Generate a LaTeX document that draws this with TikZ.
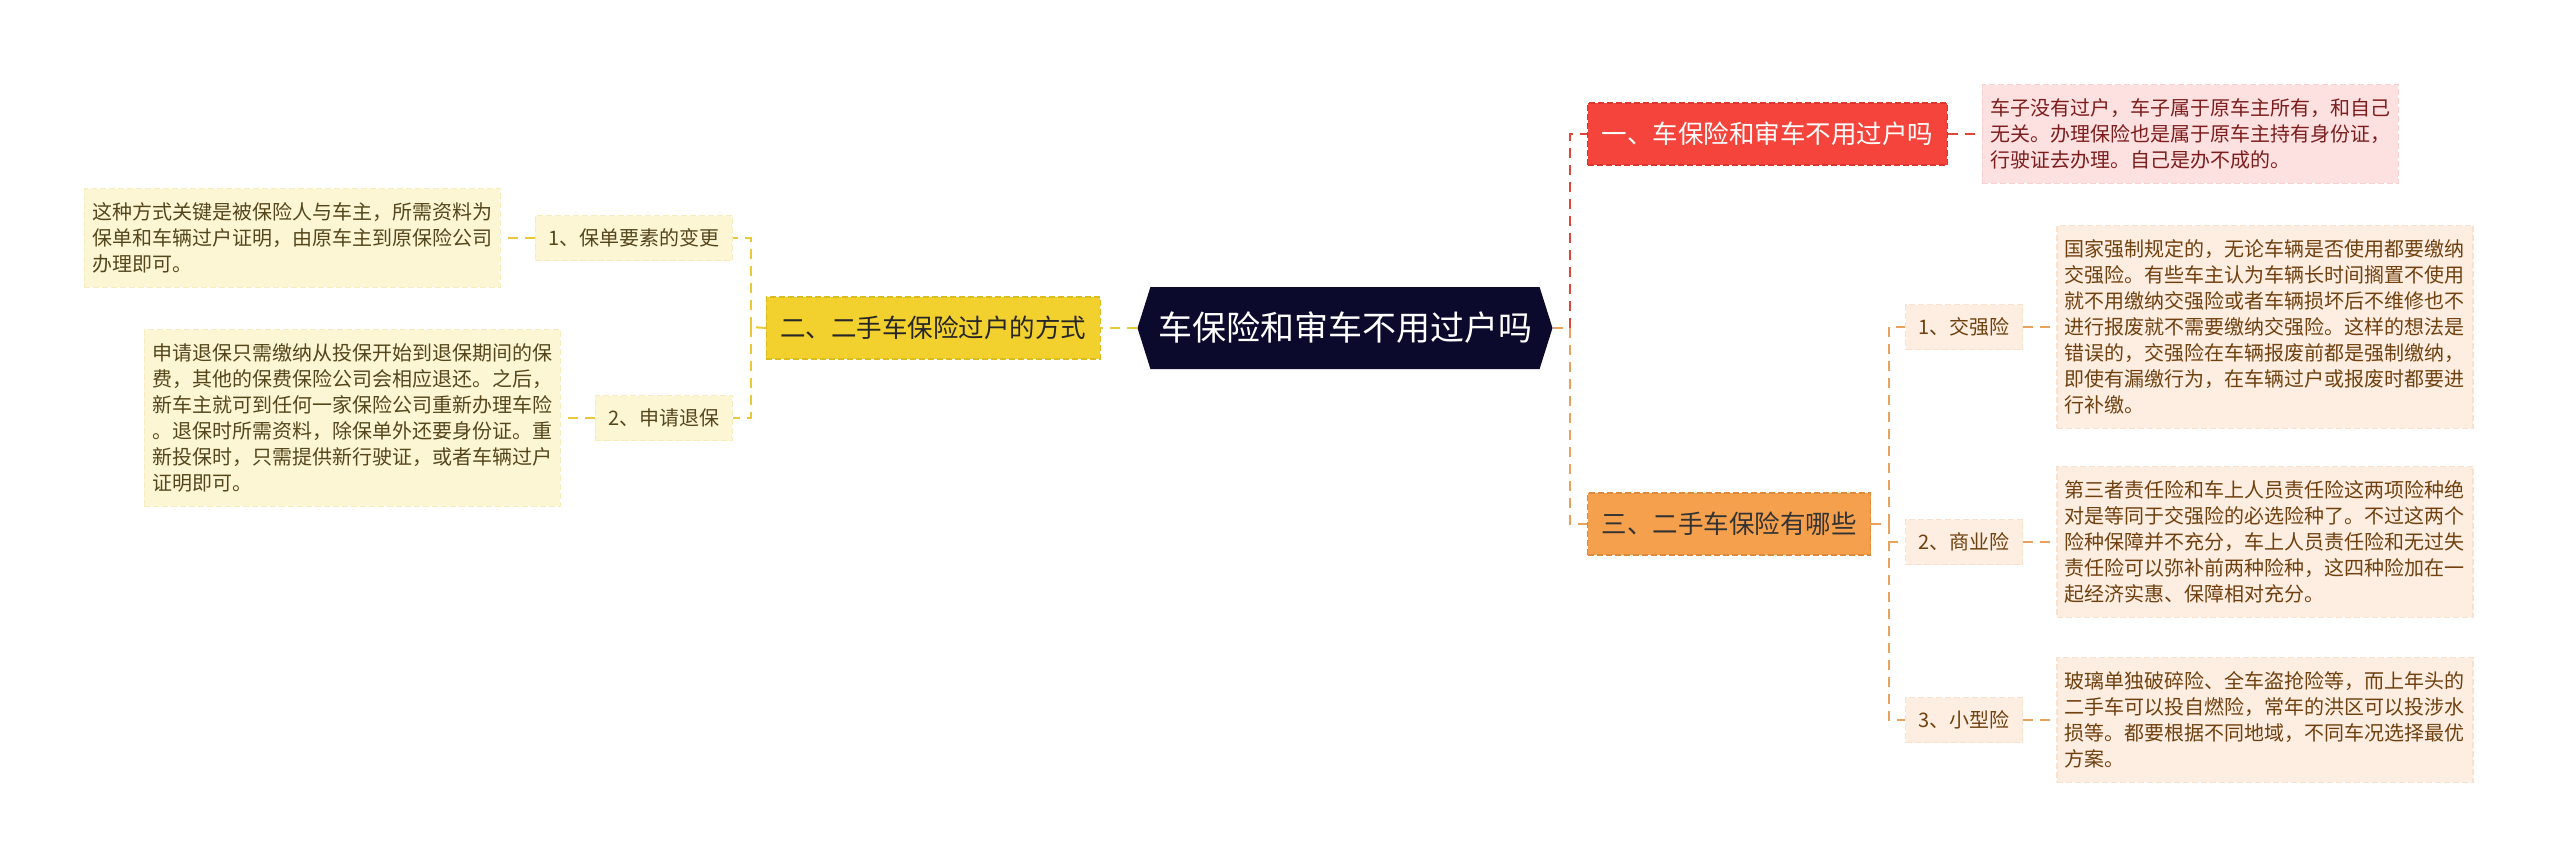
\documentclass[tikz,border=0pt]{standalone}
\usepackage{fontspec}
\setmainfont{Noto Sans CJK SC}
\usepackage{xcolor}
\usetikzlibrary{positioning,shapes.symbols}
\definecolor{rootnavy}{HTML}{0B0A2C}
\definecolor{redfill}{HTML}{F5443B}
\definecolor{rededge}{HTML}{D8362E}
\definecolor{redleaf}{HTML}{FDE1E1}
\definecolor{redleafedge}{HTML}{F9D0D0}
\definecolor{redtext}{HTML}{7E1D1D}
\definecolor{redline}{HTML}{E0453C}
\definecolor{orgfill}{HTML}{F5A04C}
\definecolor{orgedge}{HTML}{E0893A}
\definecolor{orgleaf}{HTML}{FDEEE1}
\definecolor{orgleafedge}{HTML}{F8E2CE}
\definecolor{orgtext}{HTML}{70400F}
\definecolor{orgline}{HTML}{E9A15E}
\definecolor{ylwfill}{HTML}{F2D12E}
\definecolor{ylwedge}{HTML}{DDBB1E}
\definecolor{ylwleaf}{HTML}{FDF6D4}
\definecolor{ylwleafedge}{HTML}{F6EDBE}
\definecolor{ylwtext}{HTML}{55461C}
\definecolor{ylwline}{HTML}{EAC838}

\begin{document}
\begin{tikzpicture}[x=0.5pt, y=-0.5pt, node distance=17pt, topic/.style={signal, signal to=east and west, signal pointer angle=145, fill=rootnavy, text=white, minimum width=207.5pt, minimum height=41pt, inner sep=0pt, font=\fontsize{17pt}{20pt}\selectfont}, branch/.style={draw, dash pattern=on 3pt off 1.5pt, line width=0.6pt, minimum height=31pt, inner xsep=7pt, font=\fontsize{12.75pt}{15pt}\selectfont}, sub/.style={draw, dash pattern=on 3pt off 1.5pt, line width=0.6pt, minimum height=22.5pt, inner xsep=6.5pt, font=\fontsize{10pt}{12pt}\selectfont}, leaf/.style={sub, align=left, inner xsep=4pt, inner ysep=7pt, font=\fontsize{10pt}{13pt}\selectfont}, link/.style={dash pattern=on 5pt off 3.5pt, line width=1pt}]
\useasboundingbox (0,0) rectangle (2560,867);
\node[topic] (root) at (1345,328) {车保险和审车不用过户吗};
\node[branch, draw=rededge, fill=redfill, text=white, anchor=west] (one) at (1587,134) {一、车保险和审车不用过户吗};
\node[leaf, draw=redleafedge, fill=redleaf, text=redtext, right=of one] (onetxt) {车子没有过户，车子属于原车主所有，和自己\\无关。办理保险也是属于原车主持有身份证，\\行驶证去办理。自己是办不成的。};
\node[branch, draw=orgedge, fill=orgfill, text=black!80, anchor=west] (three) at (1587,524) {三、二手车保险有哪些};
\node[sub, draw=orgleafedge, fill=orgleaf, text=orgtext, anchor=west] (jqx) at (1905,327) {1、交强险};
\node[sub, draw=orgleafedge, fill=orgleaf, text=orgtext, anchor=west] (syx) at (1905,542) {2、商业险};
\node[sub, draw=orgleafedge, fill=orgleaf, text=orgtext, anchor=west] (xxx) at (1905,720) {3、小型险};
\node[leaf, draw=orgleafedge, fill=orgleaf, text=orgtext, right=16.5pt of jqx] (jqxtxt) {国家强制规定的，无论车辆是否使用都要缴纳\\交强险。有些车主认为车辆长时间搁置不使用\\就不用缴纳交强险或者车辆损坏后不维修也不\\进行报废就不需要缴纳交强险。这样的想法是\\错误的，交强险在车辆报废前都是强制缴纳，\\即使有漏缴行为，在车辆过户或报废时都要进\\行补缴。};
\node[leaf, draw=orgleafedge, fill=orgleaf, text=orgtext, right=16.5pt of syx] (syxtxt) {第三者责任险和车上人员责任险这两项险种绝\\对是等同于交强险的必选险种了。不过这两个\\险种保障并不充分，车上人员责任险和无过失\\责任险可以弥补前两种险种，这四种险加在一\\起经济实惠、保障相对充分。};
\node[leaf, draw=orgleafedge, fill=orgleaf, text=orgtext, right=16.5pt of xxx] (xxxtxt) {玻璃单独破碎险、全车盗抢险等，而上年头的\\二手车可以投自燃险，常年的洪区可以投涉水\\损等。都要根据不同地域，不同车况选择最优\\方案。};
\node[branch, draw=ylwedge, fill=ylwfill, text=black!85, left=18pt of root] (two) {二、二手车保险过户的方式};
\node[sub, draw=ylwleafedge, fill=ylwleaf, text=ylwtext, anchor=east] (bdys) at (733,238) {1、保单要素的变更};
\node[sub, draw=ylwleafedge, fill=ylwleaf, text=ylwtext, anchor=east] (sqtb) at (733,418) {2、申请退保};
\node[leaf, draw=ylwleafedge, fill=ylwleaf, text=ylwtext, left=of bdys] (bdystxt) {这种方式关键是被保险人与车主，所需资料为\\保单和车辆过户证明，由原车主到原保险公司\\办理即可。};
\node[leaf, draw=ylwleafedge, fill=ylwleaf, text=ylwtext, left=of sqtb] (sqtbtxt) {申请退保只需缴纳从投保开始到退保期间的保\\费，其他的保费保险公司会相应退还。之后，\\新车主就可到任何一家保险公司重新办理车险\\。退保时所需资料，除保单外还要身份证。重\\新投保时，只需提供新行驶证，或者车辆过户\\证明即可。};
\coordinate (rj) at (1570,328);
\coordinate (oj) at (1889,524);
\coordinate (yj) at (751,327);
\draw[link, orgline] (root.east) -- (rj);
\draw[link, redline] (rj) |- (one.west);
\draw[link, orgline] (rj) |- (three.west);
\draw[link, redline] (one.east) -- (onetxt.west);
\draw[link, orgline] (three.east) -- (oj);
\draw[link, orgline] (oj) |- (jqx.west);
\draw[link, orgline] (oj) |- (syx.west);
\draw[link, orgline] (oj) |- (xxx.west);
\draw[link, orgline] (jqx.east) -- (jqx.east -| jqxtxt.west);
\draw[link, orgline] (syx.east) -- (syx.east -| syxtxt.west);
\draw[link, orgline] (xxx.east) -- (xxx.east -| xxxtxt.west);
\draw[link, ylwline] (root.west) -- (two.east);
\draw[link, ylwline] (two.west) -- (yj);
\draw[link, ylwline] (yj) |- (bdys.east);
\draw[link, ylwline] (yj) |- (sqtb.east);
\draw[link, ylwline] (bdys.west) -- (bdys.west -| bdystxt.east);
\draw[link, ylwline] (sqtb.west) -- (sqtb.west -| sqtbtxt.east);
\end{tikzpicture}
\end{document}
